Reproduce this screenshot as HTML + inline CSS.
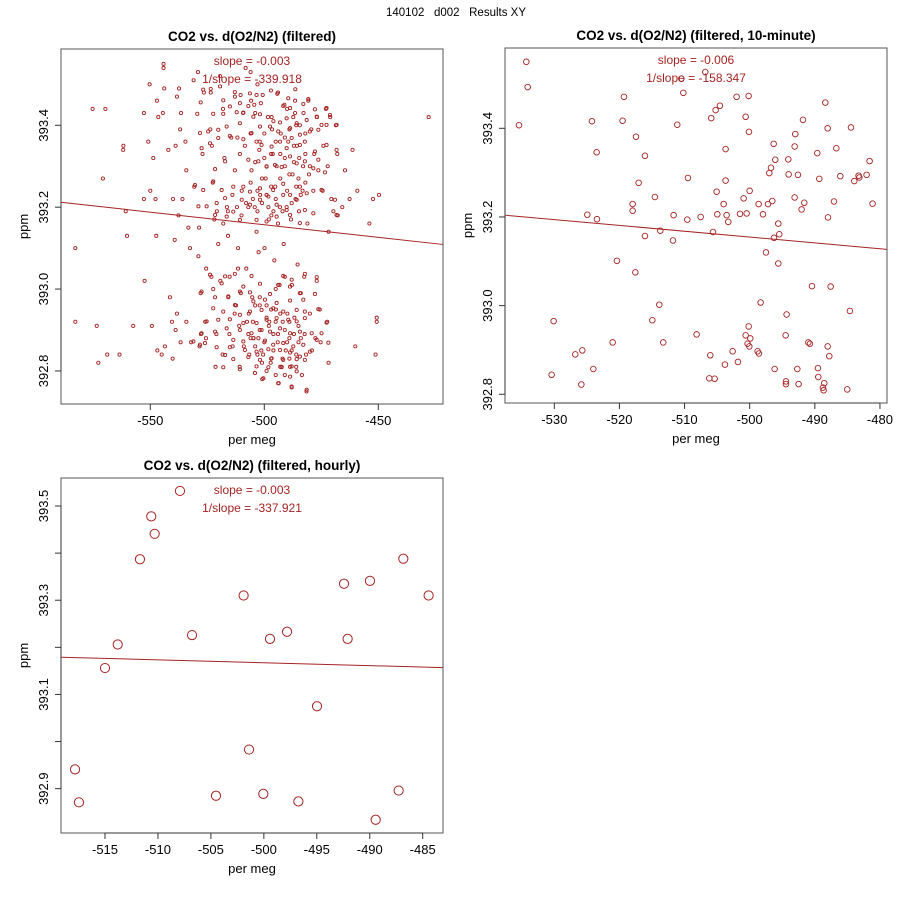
<!DOCTYPE html>
<html><head><meta charset="utf-8"><style>
body{margin:0;background:#fff}
svg{display:block;font-family:"Liberation Sans",Arial,sans-serif}
</style></head><body>
<svg id="chart" width="900" height="900" viewBox="0 0 900 900">
<rect width="900" height="900" fill="#fff"/>
<text x="456" y="16" font-size="11.5" text-anchor="middle" fill="#000" xml:space="preserve">140102   d002   Results XY</text>
</svg>
<script>
// ---------- Panel 1 data (filtered) ----------
const p1X = [-575.3,-569.7,-582.9,-582.9,-573.5,-572.8,-568.9,-570.8,-561.8,-561.9,-560.8,-560.2,-563.5,-557.5,-552.8,-550.3,-550.9,-548.7,-552.5,-549.3,-552.8,-550.0,-547.7,-547.4,-546.9,-545.0,-544.2,-544.2,-543.9,-547.1,-546.5,-544.5,-542.1,-541.4,-540.5,-540.2,-543.6,-539.3,-540.0,-538.3,-537.4,-538.9,-538.3,-538.9,-536.7,-537.6,-535.9,-536.5,-536.9,-534.2,-534.6,-533.3,-532.6,-534.2,-532.1,-531.0,-529.1,-530.7,-528.6,-528.9,-527.9,-527.8,-528.4,-526.5,-527.1,-525.5,-525.9,-525.6,-523.2,-523.5,-523.7,-523.0,-522.6,-521.9,-521.6,-521.4,-521.0,-520.8,-520.2,-519.4,-519.3,-518.3,-518.1,-517.5,-516.4,-515.9,-515.8,-515.3,-515.2,-514.5,-513.9,-512.9,-512.4,-511.8,-511.5,-511.5,-510.8,-510.7,-510.3,-509.9,-509.3,-508.5,-508.2,-507.9,-507.6,-507.0,-506.8,-506.6,-506.0,-505.8,-505.6,-505.3,-504.7,-504.2,-504.0,-503.4,-503.0,-502.6,-502.5,-502.2,-502.0,-501.8,-501.3,-500.9,-500.5,-500.0,-499.9,-499.4,-499.0,-498.4,-498.2,-497.8,-497.2,-496.9,-496.6,-496.3,-496.0,-495.6,-495.2,-494.9,-494.6,-494.1,-494.0,-493.7,-493.3,-493.1,-492.8,-492.4,-491.9,-491.7,-491.5,-491.2,-491.0,-490.6,-490.2,-489.9,-489.5,-489.0,-488.7,-488.3,-488.0,-487.9,-487.6,-487.3,-486.8,-486.5,-486.3,-486.0,-485.7,-485.4,-485.0,-484.8,-484.7,-484.4,-484.0,-483.5,-483.2,-482.8,-482.5,-482.3,-482.0,-481.7,-481.5,-481.1,-480.7,-480.4,-480.0,-479.4,-479.1,-478.5,-478.1,-477.6,-477.0,-476.9,-476.3,-475.7,-475.3,-474.4,-474.1,-473.0,-472.4,-472.2,-471.8,-471.8,-471.1,-470.6,-469.7,-468.6,-468.0,-467.8,-465.8,-464.6,-462.6,-461.3,-460.1,-459.2,-453.9,-452.3,-449.7,-450.7,-450.7,-451.2,-427.9,
-505,-503,-501,-499,-497,-495,-493,-491,-489,-487,-485,-483,-497,-495,-493,-491,-489,-487,-499,-501,-503,-506,-508,-510,-512,-514,-516,-518,-498,-496,-494,-492,-490,-488,-486,-484,-482,-480,-500,-502,-504,-506,-496,-490,-486,-482,
-506,-504,-502,-500,-498,-496,-494,-492,-490,-488,-486,-484,-499,-497,-495,-493,-491,-489,-487,-485,-503,-501,-499,-497,-495,-493,-491,-489,-505,-507,-509,-511,-513,-504,-502,-495,-491,
-526.8,-523.5,-519.4,-512.9,-510.4,-506.3,-503.4,-500.7,-497.1,-494.3,-489.5,-486.4,-480.7,
-527.9,-518.0,-515.1,-510.7,-507.0,-504.4,-501.5,-491.7,-488.7,-482.9,-477.8,-472.7,
-529.4,-522.4,-518.0,-512.1,-509.2,-504.8,-501.9,-496.8,-493.1,-490.2,-486.5,-485.8,-481.4,-477.0,-474.9,-471.2,-468.3,
-528.2,-524.6,-520.2,-516.5,-510.7,-505.6,-501.9,-497.5,-493.9,-488.7,-484.4,-480.0,-476.3,-472.7,
-527.5,-523.8,-520.2,-515.1,-509.2,-503.4,-501.2,-496.8,-493.1,-490.2,-488.0,-484.4,-482.2,-477.8,-472.7,-468.3,
-521.6,-517.2,-512.9,-507.0,-502.6,-499.0,-495.3,-492.4,-488.7,-485.8,-482.2,-478.5,-476.3,-473.4,
-530.4,-526.8,-522.4,-518.7,-513.6,-509.2,-506.3,-501.9,-499.0,-496.1,-491.7,-488.7,-484.4,-481.4,-474.9,-469.0,
-528.9,-525.3,-520.9,-517.2,-513.6,-509.9,-506.3,-501.9,-498.2,-494.6,-490.2,-485.8,-482.2,-478.5,-468.3,
-521.6,-516.5,-510.7,-503.4,-499.0,-494.6,-488.7,-484.4,
-523.8,-517.2,-512.9,-505.6,-491.7,-488.0,-477.0,-482.2,
-518.7,-509.2,-501.9,-493.9,-488.7,-522.4,-527.5,-510.7,-506.3,-497.5,-484.4,-477.8,
-515.8,-504.8,-499.7,-494.6,-488.7,-482.9,-512.9,-522.4,-518.0,-510.7,-506.3,-501.2,-496.1,-491.7,-485.8,-482.2,-476.3,
-525.3,-520.2,-515.1,-509.2,-503.4,-499.0,-494.6,-489.5,-485.8,-482.2,-472.7,
-527.5,-521.6,-516.5,-510.7,-505.6,-501.2,-497.5,-493.1,-488.7,-484.4,-479.2,-474.9,
-531.1,-526.0,-520.9,-513.6,-509.2,-504.8,-499.7,-496.1,-491.7,-487.3,-482.9,-477.0,-471.9,
-528.2,-515.1,-508.5,-503.4,-498.2,-493.1,-488.7,-484.4,-480.0,
-517.2,-513.6,-507.0,-501.9,-496.8,-491.7,-485.8,-482.2,
-518.0,-510.7,-503.4,-498.2,-492.4,-488.0,-485.8,-504.1,-500.4,-488.7,-493.9,-488.0,-481.4];
const p1Y = [393.44,393.44,393.10,392.92,392.91,392.82,392.84,393.27,393.35,393.34,393.19,393.13,392.84,392.91,393.43,393.50,393.36,393.32,393.02,392.91,393.22,393.24,393.22,393.13,392.85,392.84,393.55,393.54,393.49,393.46,393.42,393.43,393.34,392.98,392.92,392.83,392.86,393.12,393.22,393.47,393.49,393.35,392.94,392.90,392.87,393.18,393.22,393.43,393.39,393.29,393.36,393.15,393.10,392.92,392.87,393.51,393.53,393.25,393.15,393.08,392.99,392.89,392.86,393.48,393.33,393.05,392.92,392.88,393.03,393.48,393.39,393.35,393.26,393.17,392.98,392.81,392.89,393.19,393.11,393.52,393.02,392.84,393.44,393.32,393.20,393.13,392.98,392.89,393.03,393.37,392.86,393.47,392.96,393.37,393.10,393.05,392.81,393.33,392.99,393.24,393.43,393.35,393.54,393.05,392.92,393.20,392.94,392.84,393.53,393.46,393.29,392.98,392.88,393.20,393.43,393.14,393.50,392.88,393.09,393.34,392.96,393.23,392.85,392.78,392.84,393.38,393.10,393.27,392.96,393.42,393.20,392.92,392.82,393.18,393.39,393.33,392.89,393.07,393.25,392.95,393.30,392.87,393.48,392.77,393.01,393.20,393.38,392.81,392.92,393.23,393.11,393.45,393.32,392.85,393.20,392.94,393.36,392.88,392.81,393.17,392.76,393.01,393.28,393.42,392.93,393.46,393.22,392.84,393.35,393.06,392.87,393.19,393.32,393.40,392.99,392.79,393.24,393.43,393.03,392.89,393.33,392.84,392.75,393.16,393.46,393.28,392.94,393.39,392.85,393.24,393.33,392.88,393.02,393.42,393.29,392.95,392.87,393.24,393.35,393.44,392.92,393.30,392.82,393.14,393.42,393.22,393.19,393.40,393.33,393.18,393.20,393.29,393.22,393.34,392.86,393.24,393.16,393.22,393.23,392.93,392.92,392.84,393.42,
393.22,393.24,393.21,393.23,393.25,393.22,393.27,393.30,393.28,393.31,393.27,393.30,393.33,393.36,393.33,393.37,393.39,393.35,393.30,393.27,393.19,393.26,393.21,393.18,393.20,393.23,393.19,393.16,393.17,393.19,393.16,393.19,393.24,393.21,393.25,393.23,393.26,393.30,393.32,393.36,393.31,393.38,393.41,393.44,393.40,393.38,
392.88,392.86,392.90,392.87,392.91,392.85,392.89,392.83,392.87,392.85,392.81,392.88,392.93,392.95,392.92,392.94,392.90,392.92,392.89,392.91,392.84,392.82,392.80,392.83,392.79,392.81,392.79,392.83,392.92,392.89,392.86,392.91,392.94,392.96,392.98,393.00,393.03,
393.487,393.489,393.495,393.481,393.474,393.478,393.474,393.474,393.485,393.477,393.466,393.488,393.464,
393.456,393.461,393.446,393.454,393.447,393.450,393.454,393.447,393.442,393.452,393.439,393.442,
393.428,393.428,393.428,393.432,393.431,393.421,393.427,393.420,393.407,393.417,393.430,393.405,393.413,393.421,393.401,393.425,393.401,
393.381,393.385,393.389,393.397,393.405,393.381,393.397,393.397,393.385,393.393,393.377,393.385,393.389,393.401,
393.344,393.356,393.369,393.374,393.366,393.360,393.352,393.348,393.360,393.344,393.369,393.352,393.360,393.336,393.352,393.340,
393.293,393.312,393.290,393.316,393.312,393.299,393.303,393.298,393.324,393.307,393.312,393.295,393.316,393.285,
393.254,393.242,393.263,393.242,393.250,393.250,393.238,393.246,393.230,393.242,393.257,393.230,393.250,393.234,393.242,393.218,
393.202,393.202,393.210,393.222,393.189,393.218,393.206,393.218,393.226,393.206,393.193,393.218,393.193,393.185,393.181,
393.181,393.177,393.169,393.169,393.165,393.177,393.181,393.161,
393.035,393.031,393.037,393.032,393.032,393.023,393.029,393.037,
393.014,393.006,393.013,393.010,393.006,393.000,392.994,392.994,392.992,392.988,392.990,392.988,
392.982,392.970,392.974,392.966,392.972,392.974,392.961,392.953,392.945,392.937,392.945,392.949,392.953,392.945,392.949,392.945,392.951,
392.921,392.925,392.926,392.917,392.917,392.925,392.929,392.925,392.921,392.929,392.918,
392.892,392.896,392.904,392.900,392.892,392.900,392.896,392.904,392.892,392.896,392.892,392.892,
392.872,392.868,392.858,392.876,392.872,392.880,392.874,392.864,392.868,392.860,392.864,392.876,392.869,
392.864,392.858,392.851,392.847,392.853,392.851,392.845,392.835,392.847,
392.839,392.829,392.834,392.827,392.831,392.827,392.829,392.827,
392.809,392.804,392.811,392.809,392.809,392.811,392.799,392.795,392.782,392.786,392.770,392.762,392.754];
const p1Xticks = [-550,-500,-450];
const p1Yticks = [392.8,393.0,393.2,393.4];
const p1Fit = [-589.2,393.212,-421.8,393.109];
const p1Stats = ["slope = -0.003","1/slope = -339.918"];

// ---------- Panel 2 data (10-minute) ----------
const p2X = [-534.30,-534.09,-535.42,-524.22,-523.50,-524.93,-523.45,-519.30,-519.51,-517.46,-516.08,-517.05,-514.55,-517.97,-517.97,-516.08,-513.73,-511.68,-511.78,-520.38,-517.56,-510.19,-511.12,-509.48,-509.58,-507.53,-506.82,-510.50,-505.90,-505.23,-504.57,-503.70,-503.70,-505.08,-504.00,-504.97,-503.54,-503.29,-505.64,-502.01,-500.16,-500.62,-500.11,-500.01,-500.93,-501.49,-500.47,-498.63,-497.96,-497.19,-496.99,-496.73,-496.53,-496.32,-496.07,-495.61,-495.46,-496.27,-497.50,-495.61,-494.07,-494.02,-492.59,-493.10,-493.00,-491.82,-493.10,-491.62,-492.03,-489.31,-489.62,-488.39,-488.03,-486.70,-487.06,-487.98,-486.09,-483.94,-483.17,-483.28,-484.45,-482.05,-481.59,-481.13,-490.44,-487.57,-498.32,-494.33,-484.61,-513.88,-514.95,-530.10,-521.04,-513.27,-508.15,-500.16,-500.62,-499.91,-500.32,-500.06,-494.48,-491.00,-490.75,-488.03,-487.78,-498.78,-498.58,-502.62,-506.05,-501.80,-503.80,-525.70,-526.78,-524.01,-530.41,-525.85,-506.20,-505.38,-496.17,-492.69,-494.43,-494.43,-492.49,-489.52,-489.47,-488.55,-488.75,-488.65,-485.02];
const p2Y = [393.550,393.493,393.407,393.416,393.346,393.205,393.195,393.471,393.417,393.381,393.338,393.277,393.245,393.229,393.214,393.157,393.169,393.204,393.147,393.101,393.075,393.480,393.408,393.288,393.194,393.200,393.527,393.512,393.423,393.441,393.451,393.353,393.282,393.257,393.229,393.206,393.204,393.189,393.166,393.471,393.473,393.426,393.392,393.259,393.242,393.207,393.208,393.229,393.206,393.229,393.299,393.311,393.236,393.365,393.329,393.185,393.161,393.153,393.120,393.095,393.330,393.296,393.295,393.359,393.387,393.419,393.244,393.232,393.217,393.286,393.344,393.458,393.400,393.355,393.235,393.199,393.292,393.281,393.289,393.293,393.402,393.295,393.326,393.230,393.044,393.043,393.007,392.980,392.988,393.002,392.967,392.965,392.917,392.917,392.935,392.953,392.933,392.926,392.914,392.908,392.933,392.917,392.914,392.908,392.886,392.897,392.892,392.897,392.888,392.873,392.867,392.899,392.890,392.857,392.844,392.822,392.836,392.835,392.857,392.857,392.829,392.823,392.823,392.859,392.839,392.825,392.815,392.809,392.811];
const p2Xticks = [-530,-520,-510,-500,-490,-480];
const p2Yticks = [392.8,393.0,393.2,393.4];
const p2Fit = [-537.57,393.204,-478.96,393.127];
const p2Stats = ["slope = -0.006","1/slope = -158.347"];

// ---------- Panel 3 data (hourly) ----------
const p3X = [-517.83,-517.46,-515.0,-513.80,-511.70,-510.63,-510.31,-507.92,-506.78,-504.52,-501.91,-501.40,-500.05,-499.42,-497.81,-496.74,-494.98,-492.43,-492.09,-489.98,-489.44,-487.27,-486.83,-484.44];
const p3Y = [392.941,392.871,393.156,393.206,393.387,393.478,393.441,393.532,393.226,392.885,393.310,392.983,392.889,393.218,393.233,392.873,393.075,393.335,393.218,393.341,392.834,392.896,393.388,393.310];
const p3Xticks = [-515,-510,-505,-500,-495,-490,-485];
const p3Yticks = [392.9,393.0,393.1,393.2,393.3,393.4,393.5];
const p3Ylabels = ["392.9","","393.1","","393.3","","393.5"];
const p3Fit = [-519.15,393.179,-483.11,393.157];
const p3Stats = ["slope = -0.003","1/slope = -337.921"];

const NS = "http://www.w3.org/2000/svg";
const svg = document.getElementById('chart');
const RED = "#a52323";
function mk(tag, attrs, parent){
  const e = document.createElementNS(NS, tag);
  for (const k in attrs) e.setAttribute(k, attrs[k]);
  (parent||svg).appendChild(e);
  return e;
}

function panel(cfg){
  const g = mk('g', {});
  
  
  const sx = v => cfg.x0px + (v - cfg.x0v) * cfg.kx;
  const sy = v => cfg.y0px - (v - cfg.y0v) * cfg.ky;
  const L = cfg.box[0], R = cfg.box[1], T = cfg.box[2], B = cfg.box[3];
  const cx = (L+R)/2;
  const title = mk('text', {x:cx, y:T-8, 'font-size':13.5, 'font-weight':'bold', 'text-anchor':'middle'}, g);
  title.textContent = cfg.title;
  
  
  const box = mk('rect', {x:L, y:T, width:R-L, height:B-T, fill:'none', stroke:'#555', 'stroke-width':1}, g);
  
  
  const xa = mk('g', {}, g);
  
  
  mk('line', {x1:sx(cfg.xt[0]), x2:sx(cfg.xt[cfg.xt.length-1]), y1:B, y2:B, stroke:'#333'}, xa);
  cfg.xt.forEach(v => {
    mk('line', {x1:sx(v), x2:sx(v), y1:B, y2:B+6, stroke:'#333'}, xa);
    const t = mk('text', {x:sx(v), y:B+21, 'font-size':13, 'text-anchor':'middle'}, xa);
    t.textContent = String(v);
    
    
  });
  const xl = mk('text', {x:cx, y:B+40, 'font-size':13, 'text-anchor':'middle'}, g);
  xl.textContent = 'per meg';
  
  
  const ya = mk('g', {}, g);
  
  
  mk('line', {x1:L, x2:L, y1:sy(cfg.yt[0]), y2:sy(cfg.yt[cfg.yt.length-1]), stroke:'#333'}, ya);
  cfg.yt.forEach((v,i) => {
    mk('line', {x1:L-6, x2:L, y1:sy(v), y2:sy(v), stroke:'#333'}, ya);
    const lab = cfg.yl ? cfg.yl[i] : v.toFixed(1);
    if (lab) {
      const t = mk('text', {x:0, y:0, 'font-size':13, 'text-anchor':'middle', transform:`translate(${L-13},${sy(v)}) rotate(-90)`}, ya);
      t.textContent = lab;
      
      
    }
  });
  const yl = mk('text', {x:0, y:0, 'font-size':13, 'text-anchor':'middle', transform:`translate(${L-33},${(T+B)/2}) rotate(-90)`}, g);
  yl.textContent = 'ppm';
  
  
  const pts = mk('g', {}, g);
  
  
  cfg.xs.forEach((v,i) => {
    const c = mk('circle', {cx:sx(v), cy:sy(cfg.ys[i]), r:cfg.r, fill:'none', stroke:RED, 'stroke-width':cfg.sw}, pts);
    
    
  });
  const f = cfg.fit;
  const fl = mk('line', {x1:sx(f[0]), y1:sy(f[1]), x2:sx(f[2]), y2:sy(f[3]), stroke:RED, 'stroke-width':1}, g);
  
  
  cfg.stats.forEach((s,i) => {
    const t = mk('text', {x:cx, y:T+16+i*18, 'font-size':12, 'text-anchor':'middle', fill:RED}, g);
    t.textContent = s;
    
    
  });
}

panel({name:'panel-filtered', title:'CO2 vs. d(O2/N2) (filtered)', box:[61,443,49,404],
  x0v:-550, x0px:150.3, kx:2.28, y0v:393.4, y0px:125.3, ky:409.4,
  xt:p1Xticks, yt:p1Yticks, xs:p1X, ys:p1Y, fit:p1Fit, stats:p1Stats, r:1.6, sw:0.9});
panel({name:'panel-10-minute', title:'CO2 vs. d(O2/N2) (filtered, 10-minute)', box:[505,887,48,403],
  x0v:-530, x0px:554.3, kx:6.513, y0v:393.4, y0px:128.3, ky:443.3,
  xt:p2Xticks, yt:p2Yticks, xs:p2X, ys:p2Y, fit:p2Fit, stats:p2Stats, r:2.8, sw:0.9});
panel({name:'panel-hourly', title:'CO2 vs. d(O2/N2) (filtered, hourly)', box:[61,443,478,833],
  x0v:-515, x0px:105, kx:10.59, y0v:393.5, y0px:506, ky:471.1,
  xt:p3Xticks, yt:p3Yticks, yl:p3Ylabels, xs:p3X, ys:p3Y, fit:p3Fit, stats:p3Stats, r:4.6, sw:1});
</script>
</body></html>
